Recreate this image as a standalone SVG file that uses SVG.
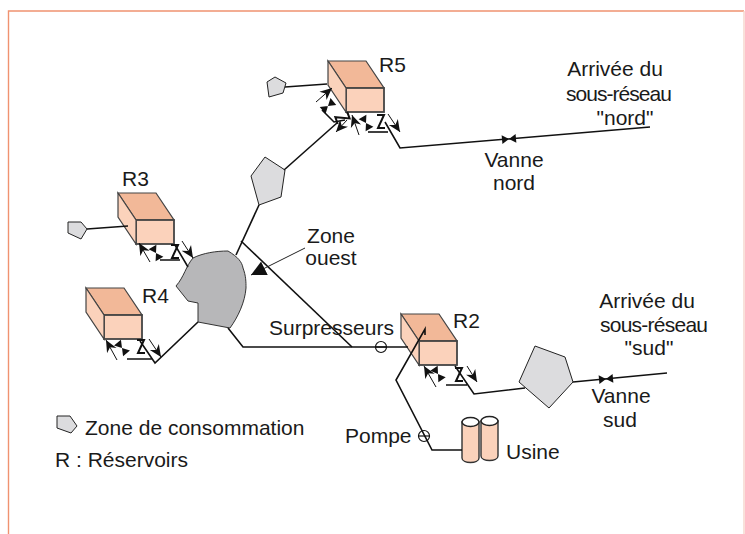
<svg xmlns="http://www.w3.org/2000/svg" width="745" height="534" viewBox="0 0 745 534">
<defs>
<style>
text{font-family:"Liberation Sans",Arial,sans-serif;font-size:21px;fill:#1a1a1a}
.c{text-anchor:middle}
.l{fill:none;stroke:#111;stroke-width:1.6;stroke-linejoin:miter}
.t{fill:none;stroke:#222;stroke-width:1}
.ar{fill:none;stroke:#111;stroke-width:1;marker-end:url(#ah)}
.zz{fill:none;stroke:#111;stroke-width:2}
.z{fill:#dcdcde;stroke:#222;stroke-width:1}
.top{fill:#f2b898;stroke:#444;stroke-width:1.2}
.side{fill:#fbd2bb;stroke:#444;stroke-width:1.2}
.front{fill:#fbd2bb;stroke:#444;stroke-width:1.8}
.cyl{fill:#fbd2bb;stroke:#333;stroke-width:1.4}
.cap{fill:#fff;stroke:#222;stroke-width:1.5}
.pump{fill:none;stroke:#111;stroke-width:1.2}
</style>
<marker id="ah" viewBox="0 0 10 10" refX="10" refY="5" markerWidth="12" markerHeight="12" markerUnits="userSpaceOnUse" orient="auto"><path d="M0 0.500L10 5L0 9.500L3 5Z" fill="#111"/></marker>
<marker id="big" viewBox="0 0 10 10" refX="10" refY="5" markerWidth="15" markerHeight="15" markerUnits="userSpaceOnUse" orient="auto"><path d="M0 0L10 5L0 10Z" fill="#111"/></marker>
<path id="bow" d="M-7 -4.500L7 4.500V-4.500L-7 4.500Z" fill="#111"/>
<path id="zig" class="zz" d="M-4 -7H3L-3 6H4"/>
<g id="res">
<path class="top" d="M0 0H38L56 27H18Z"/>
<rect class="front" x="18" y="27" width="38" height="24"/>
<path class="side" d="M0 0L18 27V51L0 24Z"/>
</g>
</defs>
<path d="M8.500 534V11H744" fill="none" stroke="#f09270" stroke-width="1.400"/>
<path d="M744 11V534" fill="none" stroke="#f6d5ca" stroke-width="1.400"/>
<g id="r5"><use href="#res" x="328" y="61"/></g>
<g id="r3"><use href="#res" x="118" y="193"/></g>
<g id="r4"><use href="#res" x="86" y="288"/></g>
<g id="r2"><use href="#res" x="401" y="314"/></g>
<g id="zone-ouest"><path d="M176 286C184 277 186 266 193 258C203 253 216 251 228 251C238 257 242 262 243 268C246 276 246 282 246 288C245 302 238 317 230 328L198 322L198 303L188 301Z" fill="#b7b7b9" stroke="#333"/></g>
<g id="z1"><path class="z" d="M267 82L275 77L286 83L283 93L269 97Z"/></g>
<g id="z2"><path class="z" d="M251 176L265 157L285 170L281 197L259 205Z"/></g>
<g id="z3"><path class="z" d="M68 222H81L87 229L81 239L68 233Z"/></g>
<g id="z4"><path class="z" d="M519 382L535 346L565 357L573 382L549 408Z"/></g>
<g id="z5"><path class="z" d="M57 416H70L77 426L71 433L57 428Z"/></g>
<g id="usine">
<path class="cyl" d="M462 422V458C462 464 479 464 479 458V422Z"/><ellipse class="cap" cx="470.500" cy="422" rx="8.500" ry="4.500"/>
<path class="cyl" d="M481 421V456C481 462 498 462 498 456V421Z"/><ellipse class="cap" cx="489.500" cy="421" rx="8.500" ry="4.500"/>
</g>
<g id="connectors">
<path class="l" d="M285 87L327 84"/>
<path class="l" d="M337 123L284 170"/>
<path class="l" d="M322 110L334 122L345 120"/>
<path class="l" d="M368 132H388"/>
<path class="l" d="M385 122L400 148L650 127"/>
<path class="l" d="M259 205L236 255"/>
<path class="l" d="M241 241L352 347"/>
<path class="l" d="M228 328L243 347H408"/>
<path class="l" d="M87 229L128 226"/>
<path class="l" d="M160 260H180M175 245L188 267"/>
<path class="l" d="M127 359H152M140 341L155 363L198 322"/>
<path class="l" d="M446 385H467M455 366L474 394L525 388"/>
<path class="l" d="M573 382L667 373"/>
<path class="l" d="M425 335V329L396 380L432 450H462"/>
<path class="t" d="M305 248L251 275" marker-end="url(#big)"/>
<path class="ar" d="M316 102L332 88"/><path class="ar" d="M359 135L352 115"/><path class="ar" d="M347 120L336 132"/><path class="ar" d="M388 114L400 132"/>
<path class="ar" d="M150 262L139 243"/><path class="ar" d="M182 241L193 258"/>
<path class="ar" d="M117 360L106 340"/><path class="ar" d="M149 339L161 357"/>
<path class="ar" d="M436 387L424 366"/><path class="ar" d="M467 366L477 382"/>
<use href="#bow" transform="translate(328 106) rotate(-40)"/>
<use href="#bow" transform="translate(366 123) rotate(60)"/>
<use href="#bow" transform="translate(156 253) rotate(60)"/>
<use href="#bow" transform="translate(122 348) rotate(50)"/>
<use href="#bow" transform="translate(438 374) rotate(55)"/>
<use href="#bow" transform="translate(509 139) rotate(-5)"/>
<use href="#bow" transform="translate(606 379) rotate(-5)"/>
<use href="#zig" transform="translate(342 118) rotate(70)"/>
<use href="#zig" x="381" y="122"/>
<use href="#zig" x="175" y="252"/>
<use href="#zig" x="141" y="347"/>
<use href="#zig" x="459" y="375"/>
<circle class="pump" cx="381" cy="347" r="5.500"/><path class="pump" d="M375.500 347H386.500"/>
<circle class="pump" cx="424" cy="436" r="5.500"/><path class="pump" d="M418.500 436H429.500"/>
</g>
<g id="labels">
<text x="379" y="72">R5</text><text x="122" y="186">R3</text><text x="142" y="303">R4</text><text x="453" y="328">R2</text>
<text class="c" x="615" y="76">Arrivée du</text><text class="c" x="619" y="101" textLength="106">sous-réseau</text><text class="c" x="625" y="125">"nord"</text>
<text class="c" x="514" y="167">Vanne</text><text class="c" x="514" y="190">nord</text>
<text class="c" x="331" y="243">Zone</text><text class="c" x="331" y="265">ouest</text>
<text x="269" y="335">Surpresseurs</text>
<text class="c" x="647" y="308">Arrivée du</text><text class="c" x="654" y="332" textLength="108">sous-réseau</text><text class="c" x="649" y="355">"sud"</text>
<text class="c" x="621" y="403">Vanne</text><text class="c" x="620" y="427">sud</text>
<text x="345" y="443">Pompe</text><text x="506" y="459">Usine</text>
<text x="85" y="435">Zone de consommation</text><text x="55" y="467">R : Réservoirs</text>
</g>
</svg>
